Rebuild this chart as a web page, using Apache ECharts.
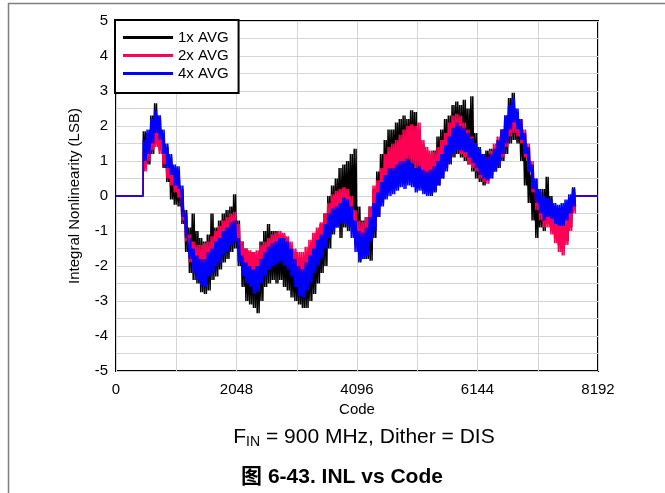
<!DOCTYPE html>
<html><head><meta charset="utf-8">
<script src="https://cdn.jsdelivr.net/npm/echarts@6/dist/echarts.min.js"></script>
<style>html,body{margin:0;padding:0;background:#fff}#c{width:665px;height:493px}</style>
</head><body><div id="c"></div>
<script>
// ---- data ----
const seriesNames = ['1x AVG', '2x AVG', '4x AVG'];
const xTicks = [0, 2048, 4096, 6144, 8192];
const yTicks = [-5, -4, -3, -2, -1, 0, 1, 2, 3, 4, 5];
const startCode = 460;   // last zero code before the data begins
const endCode = 7800;    // first zero code after the data ends
const firstCode = 464;   // first sampled code
const codeStep = 64;     // spacing of samples; each sample spans upper/lower noise envelope

const blackHi = [
 1.85, 1.8, 2.3, 2.65, 2.3, 1.8, 1.4, 1.1, 0.8, 0.7,
 0.2, -0.4, -0.9, -0.5, -1.0, -1.2, -1.3, -1.1, -0.5, -0.9,
 -0.7, -0.5, -0.4, -0.3, 0.05, -0.7, -1.3, -1.5, -1.6, -1.6,
 -1.7, -1.3, -1.0, -0.8, -1.0, -1.0, -1.1, -1.1, -1.2, -1.4,
 -1.6, -1.8, -1.9, -1.7, -1.5, -1.3, -1.0, -0.8, -0.5, 0.0,
 0.3, 0.5, 0.8, 0.9, 1.0, 1.2, 1.35, -0.3, -0.7, -0.6,
 -0.3, 0.2, 0.7, 1.2, 1.6, 1.9, 1.9, 2.1, 2.2, 2.3,
 2.2, 2.45, 2.4, 1.8, 1.5, 1.3, 1.2, 1.3, 1.7, 1.9,
 2.2, 2.3, 2.6, 2.7, 2.6, 2.75, 2.5, 2.85, 1.8, 1.4,
 1.2, 1.3, 1.35, 1.3, 1.6, 1.9, 2.3, 2.8, 2.95, 2.4,
 2.0, 1.5, 1.0, 0.6, 0.3, 0.1, 0.2, 0.55, 0.0, -0.3,
 -0.4, -0.4, -0.3, -0.1, 0.25];
const blackLo = [
 0.9, 0.9, 1.2, 1.5, 1.3, 0.8, 0.4, -0.1, -0.25, -0.3,
 -0.8, -1.6, -2.2, -2.4, -2.5, -2.75, -2.8, -2.7, -2.4, -2.3,
 -2.1, -1.9, -1.8, -1.6, -1.5, -2.0, -2.6, -3.0, -3.1, -3.2,
 -3.35, -3.0, -2.6, -2.5, -2.4, -2.5, -2.4, -2.6, -2.7, -2.9,
 -3.0, -3.1, -3.2, -3.2, -3.0, -2.8, -2.5, -2.2, -2.0, -1.5,
 -1.1, -0.9, -1.2, -0.9, -1.0, -0.9, -1.4, -1.9, -1.8, -1.8,
 -1.85, -1.2, -0.6, -0.2, 0.2, 0.3, 0.5, 0.6, 0.7, 0.7,
 0.8, 0.7, 0.6, 0.5, 0.3, 0.1, 0.0, 0.1, 0.3, 0.5,
 0.8, 0.9, 1.1, 1.2, 1.1, 1.0, 0.9, 0.7, 0.5, 0.4,
 0.3, 0.5, 0.6, 0.7, 0.8, 1.0, 1.2, 1.5, 1.6, 1.5,
 1.0, 0.3, -0.2, -0.7, -1.2, -0.9, -1.0, -0.8, -1.0, -1.2,
 -1.4, -1.5, -1.3, -0.9, -0.3];

const redHi = [
 1.3, 1.7, 2.0, 2.1, 1.95, 1.6, 1.2, 0.95, 0.7, 0.65,
 0.1, -0.6, -1.1, -1.3, -1.4, -1.4, -1.35, -1.3, -1.15, -1.0,
 -0.85, -0.7, -0.6, -0.5, -0.45, -0.8, -1.3, -1.5, -1.55, -1.6,
 -1.55, -1.4, -1.3, -1.2, -1.1, -1.05, -1.0, -1.05, -1.15, -1.3,
 -1.5, -1.6, -1.6, -1.45, -1.25, -1.05, -0.9, -0.75, -0.5, -0.2,
 0.05, 0.15, 0.2, 0.25, 0.2, 0.0, -0.4, -0.7, -0.75, -0.6,
 -0.3, 0.3, 0.45, 0.8, 1.2, 1.4, 1.5, 1.6, 1.75, 1.9,
 2.0, 2.05, 2.0, 2.1, 1.6, 1.4, 1.3, 1.25, 1.4, 1.6,
 1.8, 2.1, 2.3, 2.35, 2.3, 2.1, 1.9, 1.7, 1.5, 1.3,
 1.15, 1.1, 1.3, 1.5, 1.7, 1.9, 2.2, 2.45, 2.6, 2.4,
 2.2, 1.9, 1.5, 1.0, 0.5, 0.2, 0.0, -0.1, -0.2, -0.4,
 -0.6, -0.7, -0.5, -0.2, 0.1];
const redLo = [
 0.7, 1.0, 1.3, 1.4, 1.2, 0.9, 0.5, 0.3, 0.1, -0.05,
 -0.7, -1.3, -1.9, -2.1, -2.3, -2.4, -2.4, -2.2, -2.0, -1.9,
 -1.7, -1.5, -1.4, -1.3, -1.2, -1.7, -2.1, -2.3, -2.4, -2.5,
 -2.4, -2.2, -2.1, -1.9, -1.8, -1.75, -1.7, -1.8, -1.9, -2.1,
 -2.3, -2.5, -2.6, -2.4, -2.2, -1.9, -1.7, -1.5, -1.2, -0.9,
 -0.6, -0.5, -0.5, -0.45, -0.6, -0.9, -1.4, -1.8, -1.75, -1.5,
 -1.2, -0.8, -0.4, 0.0, 0.3, 0.5, 0.6, 0.7, 0.8, 0.9,
 1.0, 0.9, 0.8, 0.7, 0.5, 0.3, 0.2, 0.25, 0.4, 0.6,
 0.8, 1.0, 1.2, 1.3, 1.2, 1.1, 0.9, 0.8, 0.7, 0.5,
 0.4, 0.35, 0.5, 0.7, 0.9, 1.1, 1.4, 1.7, 1.8, 1.7,
 1.5, 1.1, 0.7, 0.1, -0.4, -0.7, -0.9, -0.9, -1.1, -1.35,
 -1.6, -1.7, -1.4, -1.0, -0.5];

const blueHi = [
 1.6, 1.9, 2.2, 2.45, 2.3, 1.9, 1.5, 1.2, 0.9, 0.85,
 0.3, -0.5, -1.2, -1.5, -1.7, -1.8, -1.8, -1.6, -1.5, -1.3,
 -1.2, -1.0, -0.9, -0.75, -0.7, -1.2, -1.7, -1.9, -2.0, -2.1,
 -2.0, -1.8, -1.6, -1.45, -1.35, -1.3, -1.2, -1.2, -1.3, -1.5,
 -1.8, -2.0, -2.1, -1.9, -1.7, -1.5, -1.25, -1.1, -0.8, -0.5,
 -0.35, -0.3, -0.2, -0.05, -0.1, -0.3, -0.7, -1.0, -1.05, -0.9,
 -0.6, -0.2, 0.1, 0.4, 0.6, 0.8, 0.8, 0.9, 1.0, 1.0,
 1.05, 0.95, 0.8, 0.85, 0.75, 0.7, 0.75, 0.85, 1.0, 1.2,
 1.45, 1.7, 1.95, 2.1, 2.0, 1.95, 1.8, 1.65, 1.5, 1.35,
 1.2, 1.1, 1.2, 1.35, 1.6, 1.9, 2.3, 2.6, 2.8, 2.5,
 2.2, 1.8, 1.4, 0.9, 0.5, 0.2, 0.0, -0.05, -0.1, -0.2,
 -0.25, -0.2, -0.1, 0.05, 0.2];
const blueLo = [
 1.0, 1.2, 1.5, 1.8, 1.6, 1.2, 0.8, 0.6, 0.3, 0.2,
 -0.6, -1.2, -1.8, -2.2, -2.4, -2.55, -2.6, -2.3, -2.2, -2.0,
 -1.9, -1.7, -1.6, -1.4, -1.3, -1.9, -2.3, -2.5, -2.6, -2.8,
 -2.75, -2.5, -2.3, -2.1, -2.0, -1.95, -1.9, -2.0, -2.1, -2.3,
 -2.6, -2.85, -2.9, -2.7, -2.5, -2.2, -2.0, -1.8, -1.5, -1.2,
 -1.0, -0.9, -0.8, -0.8, -0.9, -1.2, -1.6, -1.85, -1.8, -1.7,
 -1.3, -1.0, -0.6, -0.3, -0.1, 0.0, 0.05, 0.15, 0.25, 0.2,
 0.3, 0.25, 0.1, 0.15, 0.05, 0.0, 0.05, 0.15, 0.3, 0.5,
 0.7, 0.95, 1.2, 1.3, 1.3, 1.25, 1.1, 0.95, 0.8, 0.6,
 0.5, 0.45, 0.5, 0.7, 0.9, 1.2, 1.5, 1.9, 2.1, 1.9,
 1.6, 1.2, 0.7, 0.2, -0.2, -0.5, -0.7, -0.6, -0.65, -0.8,
 -0.85, -0.85, -0.7, -0.5, -0.3];

// ---- build series data from the arrays (dense hi/lo noise strokes) ----
function build(hi, lo) {
  const d = [[xTicks[0], 0], [startCode, 0]];
  const q = codeStep / 4;
  for (let k = 0; k < hi.length; k++) {
    const c = firstCode + codeStep * k;
    d.push([c, hi[k]]);
    d.push([c + q, lo[k]]);
    d.push([c + 2 * q, hi[k]]);
    d.push([c + 3 * q, lo[k]]);
  }
  d.push([endCode, 0]);
  d.push([xTicks[xTicks.length - 1], 0]);
  return d;
}

const FONT = '"Liberation Sans", Arial, "Noto Sans CJK SC", sans-serif';
const colors = ['#000000', '#ff0055', '#0000ff'];
const chart = echarts.init(document.getElementById('c'), null, {renderer: 'canvas'});

chart.setOption({
  animation: false,
  backgroundColor: '#ffffff',
  textStyle: {fontFamily: FONT},
  grid: {left: 116, top: 21, right: 67, bottom: 122, show: true,
         borderColor: '#000', borderWidth: 2, backgroundColor: 'transparent', containLabel: false},
  xAxis: {
    type: 'value', min: xTicks[0], max: xTicks[xTicks.length - 1], interval: 2048,
    name: 'Code', nameLocation: 'middle', nameGap: 25,
    nameTextStyle: {color: '#000', fontSize: 15, fontFamily: FONT},
    axisLine: {show: false}, axisTick: {show: false},
    axisLabel: {color: '#000', fontSize: 15, margin: 11, fontFamily: FONT,
                formatter: function (v) { return String(v); }},
    splitLine: {show: true, lineStyle: {color: '#d4d4d4', width: 1}},
    minorTick: {show: false, splitNumber: 2},
    minorSplitLine: {show: true, lineStyle: {color: '#d4d4d4', width: 1}}
  },
  yAxis: {
    type: 'value', min: yTicks[0], max: yTicks[yTicks.length - 1], interval: 1,
    name: 'Integral Nonlinearity (LSB)', nameLocation: 'middle', nameGap: 34,
    nameTextStyle: {color: '#000', fontSize: 15, fontFamily: FONT},
    axisLine: {show: false}, axisTick: {show: false},
    axisLabel: {color: '#000', fontSize: 15, margin: 8, fontFamily: FONT,
                formatter: function (v) { return String(v); }},
    splitLine: {show: true, lineStyle: {color: '#d4d4d4', width: 1}},
    minorTick: {show: false, splitNumber: 2},
    minorSplitLine: {show: true, lineStyle: {color: '#d4d4d4', width: 1}}
  },
  legend: {
    data: seriesNames, orient: 'vertical', left: 115, top: 20,
    backgroundColor: '#fff', borderColor: '#000', borderWidth: 2,
    padding: [10, 10, 12, 8], itemGap: 3, itemWidth: 50, itemHeight: 3,
    icon: 'rect',
    textStyle: {color: '#000', fontSize: 15, fontFamily: FONT}
  },
  series: [
    {name: seriesNames[0], type: 'line', data: build(blackHi, blackLo), showSymbol: false,
     symbol: 'none', color: colors[0], lineStyle: {width: 1.5, color: colors[0]}, z: 2},
    {name: seriesNames[1], type: 'line', data: build(redHi, redLo), showSymbol: false,
     symbol: 'none', color: colors[1], lineStyle: {width: 1.5, color: colors[1]}, z: 3},
    {name: seriesNames[2], type: 'line', data: build(blueHi, blueLo), showSymbol: false,
     symbol: 'none', color: colors[2], lineStyle: {width: 1.5, color: colors[2]}, z: 4}
  ],
  graphic: [
    {type: 'line', shape: {x1: 8, y1: 3.5, x2: 665, y2: 3.5}, style: {stroke: '#808080', lineWidth: 1.5}},
    {type: 'line', shape: {x1: 8.5, y1: 3, x2: 8.5, y2: 493}, style: {stroke: '#808080', lineWidth: 1.5}},
    {type: 'text', x: 364, y: 437,
     style: {text: '{a|F}{s|IN}{a| = 900 MHz, Dither = DIS}', align: 'center', verticalAlign: 'middle',
       rich: {a: {fontSize: 21, fontFamily: FONT, fill: '#000', lineHeight: 24, verticalAlign: 'middle'},
              s: {fontSize: 14, fontFamily: FONT, fill: '#000', lineHeight: 15, verticalAlign: 'bottom'}}}},
    {type: 'text', x: 342, y: 477,
     style: {text: '图 6-43. INL vs Code', align: 'center', verticalAlign: 'middle',
       font: 'bold 21px ' + FONT, fill: '#000'}}
  ]
});
</script>
</body></html>
